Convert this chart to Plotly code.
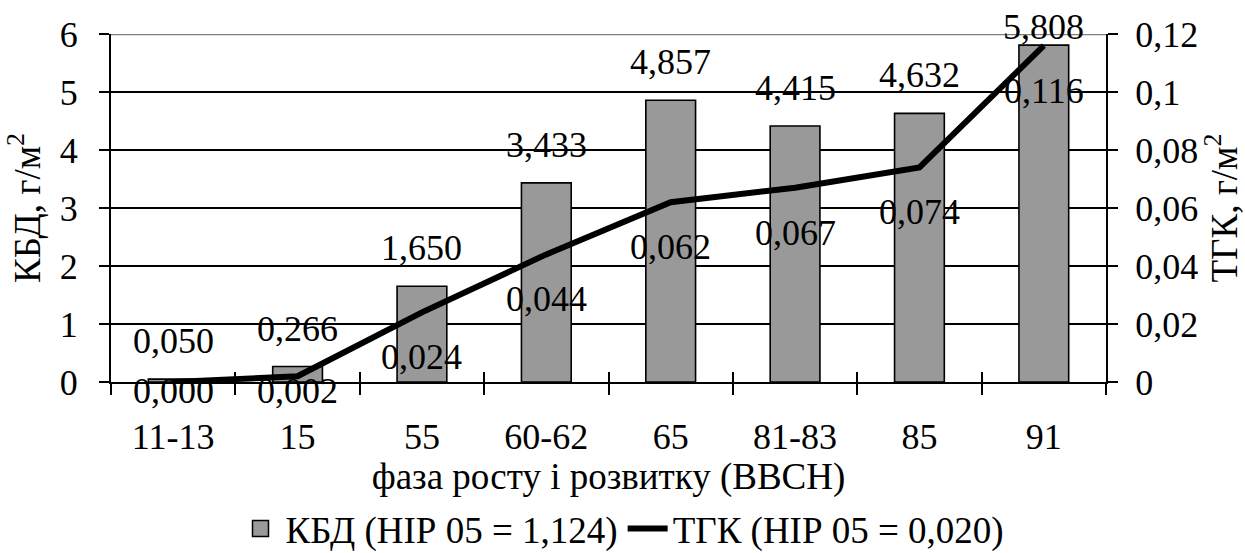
import plotly.graph_objects as go

categories = ["11-13", "15", "55", "60-62", "65", "81-83", "85", "91"]
kbd_values = [0.050, 0.266, 1.650, 3.433, 4.857, 4.415, 4.632, 5.808]
tgk_values = [0.000, 0.002, 0.024, 0.044, 0.062, 0.067, 0.074, 0.116]
left_ticks = [0, 1, 2, 3, 4, 5, 6]
right_ticks = [0, 0.02, 0.04, 0.06, 0.08, 0.10, 0.12]
right_ticktext = ["0", "0,02", "0,04", "0,06", "0,08", "0,1", "0,12"]
kbd_name = "КБД (НІР 05 = 1,124)"
tgk_name = "ТГК (НІР 05 = 0,020)"

FONT = "Liberation Serif, DejaVu Serif, serif"
FS = 36
FS_CYR = 37
W, H = 1245, 553
ML, MR, MT, MB = 111, 139, 34, 171
PH = H - MT - MB
N = len(categories)
idx = list(range(N))
BAR_FILL = "#999999"

fig = go.Figure()
fig.add_trace(go.Bar(
    x=categories, y=kbd_values, name=kbd_name, showlegend=False,
    marker=dict(color=BAR_FILL, line=dict(color="black", width=1.6)),
    yaxis="y",
))
# legend proxy for the bars (larger swatch than the default bar icon)
fig.add_trace(go.Scatter(
    x=[None], y=[None], name=kbd_name, mode="markers",
    marker=dict(symbol="square", size=16, color=BAR_FILL, line=dict(color="black", width=1.5)),
    yaxis="y",
))
fig.add_trace(go.Scatter(
    x=categories, y=tgk_values, name=tgk_name,
    mode="lines", line=dict(color="black", width=6),
    yaxis="y2",
))
# invisible helper trace to activate overlay axes (inside halves of the crossing ticks)
fig.add_trace(go.Scatter(x=idx, y=kbd_values, xaxis="x2", yaxis="y3",
                         mode="markers", marker=dict(opacity=0), showlegend=False,
                         hoverinfo="skip"))

def fmt(v):
    return f"{v:.3f}".replace(".", ",")

tfont = dict(family=FONT, size=FS, color="black")
cfont = dict(family=FONT, size=FS_CYR, color="black")
annotations = []
for i, v in zip(idx, kbd_values):
    top_px = MT + (6 - v) / 6 * PH
    shift = min(38, top_px - 27)
    annotations.append(dict(x=i, y=v, xref="x", yref="y", text=fmt(v),
                            showarrow=False, yshift=shift, yanchor="middle",
                            font=tfont))
for i, v in zip(idx, tgk_values):
    pt_px = MT + (0.12 - v) / 0.12 * PH
    shift = min(45, 391 - pt_px)
    annotations.append(dict(x=i, y=v, xref="x", yref="y2", text=fmt(v),
                            showarrow=False, yshift=-shift, yanchor="middle",
                            font=tfont))

boundaries = [i - 0.5 for i in range(N + 1)]

fig.update_layout(
    width=W, height=H,
    margin=dict(l=ML, r=MR, t=MT, b=MB, autoexpand=False),
    paper_bgcolor="white", plot_bgcolor="white",
    font=tfont,
    bargap=0.6,
    showlegend=True,
    legend=dict(orientation="h", x=0.5, xanchor="center", xref="container",
                y=1 - 529 / H, yanchor="middle", yref="container",
                font=cfont, itemwidth=40, traceorder="normal",
                bgcolor="rgba(0,0,0,0)"),
    xaxis=dict(
        type="category", range=[-0.5, N - 0.5], autorange=False, automargin=False,
        showline=True, linecolor="black", linewidth=2,
        ticks="outside", ticklen=11, tickwidth=2, tickcolor="black", tickson="boundaries",
        showgrid=False, tickangle=0, tickfont=tfont,
        title=dict(text="фаза росту і розвитку (ВВСН)", standoff=2, font=cfont),
        ticklabelstandoff=22,
    ),
    xaxis2=dict(
        overlaying="x", range=[-0.5, N - 0.5], autorange=False, tickvals=boundaries,
        showline=False, ticks="inside", ticklen=10, tickwidth=2, tickcolor="black",
        showticklabels=False, showgrid=False, zeroline=False, automargin=False,
    ),
    yaxis=dict(
        range=[0, 6], tickvals=left_ticks, showline=True, linecolor="black", linewidth=2,
        ticks="outside", ticklen=10, tickwidth=2, tickcolor="black", tickfont=tfont,
        showgrid=True, gridcolor="black", gridwidth=1.6, zeroline=False, automargin=False,
        title=dict(text="КБД, г/м<sup>2</sup>", standoff=8, font=cfont), ticklabelstandoff=14,
    ),
    yaxis2=dict(
        range=[0, 0.12], tickvals=right_ticks, ticktext=right_ticktext,
        overlaying="y", side="right", showline=True, linecolor="black", linewidth=2,
        ticks="outside", ticklen=10, tickwidth=2, tickcolor="black", tickfont=tfont,
        showgrid=False, zeroline=False, automargin=False,
        title=dict(text="ТГК, г/м<sup>2</sup>", standoff=12, font=cfont), ticklabelstandoff=10,
    ),
    yaxis3=dict(
        range=[0, 6], tickvals=left_ticks, overlaying="y", side="right",
        ticks="inside", ticklen=10, tickwidth=2, tickcolor="black", automargin=False,
        showticklabels=False, showgrid=False, showline=False, zeroline=False,
    ),
    annotations=annotations,
    shapes=[dict(type="line", xref="paper", yref="y", x0=0, x1=1, y0=6, y1=6,
                 line=dict(color="#808080", width=2.5), layer="above")],
)

fig.write_html("out.html")
